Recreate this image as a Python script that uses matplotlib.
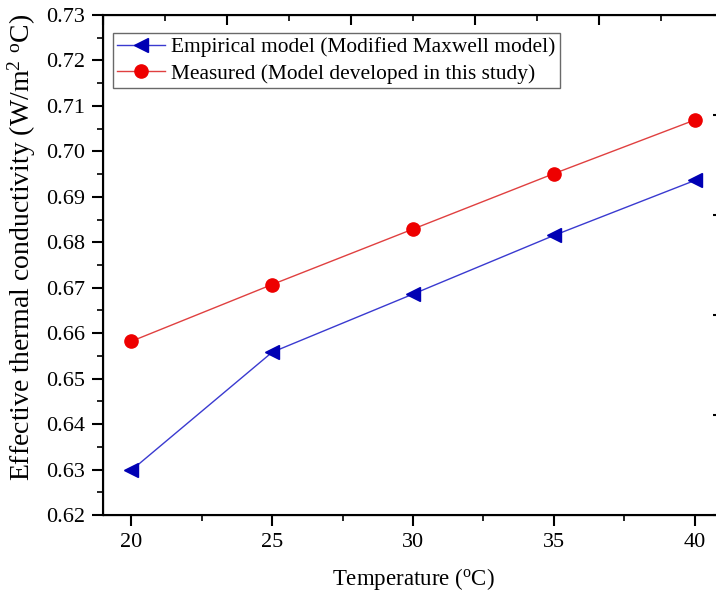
import matplotlib
matplotlib.use("Agg")
import matplotlib.pyplot as plt
from matplotlib.ticker import MultipleLocator, FormatStrFormatter, NullFormatter

plt.rcParams['font.family'] = ['Liberation Serif', 'DejaVu Serif']
plt.rcParams['mathtext.fontset'] = 'custom'
plt.rcParams['mathtext.rm'] = 'Liberation Serif'
plt.rcParams['mathtext.it'] = 'Liberation Serif:italic'

# Data
temperature = [20, 25, 30, 35, 40]
empirical = [0.6298, 0.6558, 0.6686, 0.6815, 0.6936]
measured = [0.6582, 0.6707, 0.6829, 0.6951, 0.7069]

label_empirical = "Empirical model (Modified Maxwell model)"
label_measured = "Measured (Model developed in this study)"

fig = plt.figure(figsize=(7.16, 6.01), dpi=100)
ax = fig.add_axes([103 / 716, 86 / 601, 620 / 716, 500 / 601])

ax.plot(temperature, empirical, color='#3a3ad0', lw=1.0, marker='<',
        markersize=10, markerfacecolor='#0000b4', markeredgecolor='#0000b4',
        label=label_empirical)
ax.plot(temperature, measured, color='#e04040', lw=1.0, marker='o',
        markersize=9.5, markerfacecolor='#ee0000', markeredgecolor='#ee0000',
        label=label_measured)

ax.set_xlim(19, 41)
ax.set_ylim(0.62, 0.73)
ax.xaxis.set_major_locator(MultipleLocator(5))
ax.xaxis.set_minor_locator(MultipleLocator(2.5))
ax.yaxis.set_major_locator(MultipleLocator(0.01))
ax.yaxis.set_minor_locator(MultipleLocator(0.005))
ax.yaxis.set_major_formatter(FormatStrFormatter('%.2f'))

for s in ax.spines.values():
    s.set_linewidth(1.5)
ax.tick_params(axis='both', which='major', direction='out', length=8,
               width=1.5, labelsize=16, pad=5)
ax.tick_params(axis='both', which='minor', direction='out', length=4,
               width=1.2)

# Secondary axes carrying inward ticks on top and right
top = ax.twiny()
top.set_xlim(0, 10)
top.xaxis.set_major_locator(MultipleLocator(2))
top.xaxis.set_minor_locator(MultipleLocator(1))
top.xaxis.set_major_formatter(NullFormatter())
top.tick_params(axis='x', which='major', direction='in', length=7, width=1.5)
top.tick_params(axis='x', which='minor', direction='in', length=4, width=1.2)

right = ax.twinx()
right.set_ylim(0, 5)
right.yaxis.set_major_locator(MultipleLocator(1))
right.yaxis.set_major_formatter(NullFormatter())
right.tick_params(axis='y', which='major', direction='in', length=7, width=1.5)
right.tick_params(axis='y', which='minor', length=0)

ax.set_xlabel('Temperature ($^{\\mathrm{o}}$C)', fontsize=16.5, labelpad=10)
ax.set_ylabel('Effective thermal conductivity (W/m$^{\\mathrm{2}}$ $^{\\mathrm{o}}$C)',
              fontsize=20, labelpad=6)
ax.yaxis.label.set_y(0.535)

leg = ax.legend(loc='upper left', bbox_to_anchor=(10 / 620, 1 - 18 / 500),
                fontsize=15.4, frameon=True, fancybox=False,
                edgecolor='#444444', handlelength=2.25, handletextpad=0.28,
                borderpad=0.2, labelspacing=0.3, borderaxespad=0)
leg.get_frame().set_linewidth(1.0)

fig.savefig('out.png', dpi=100)
